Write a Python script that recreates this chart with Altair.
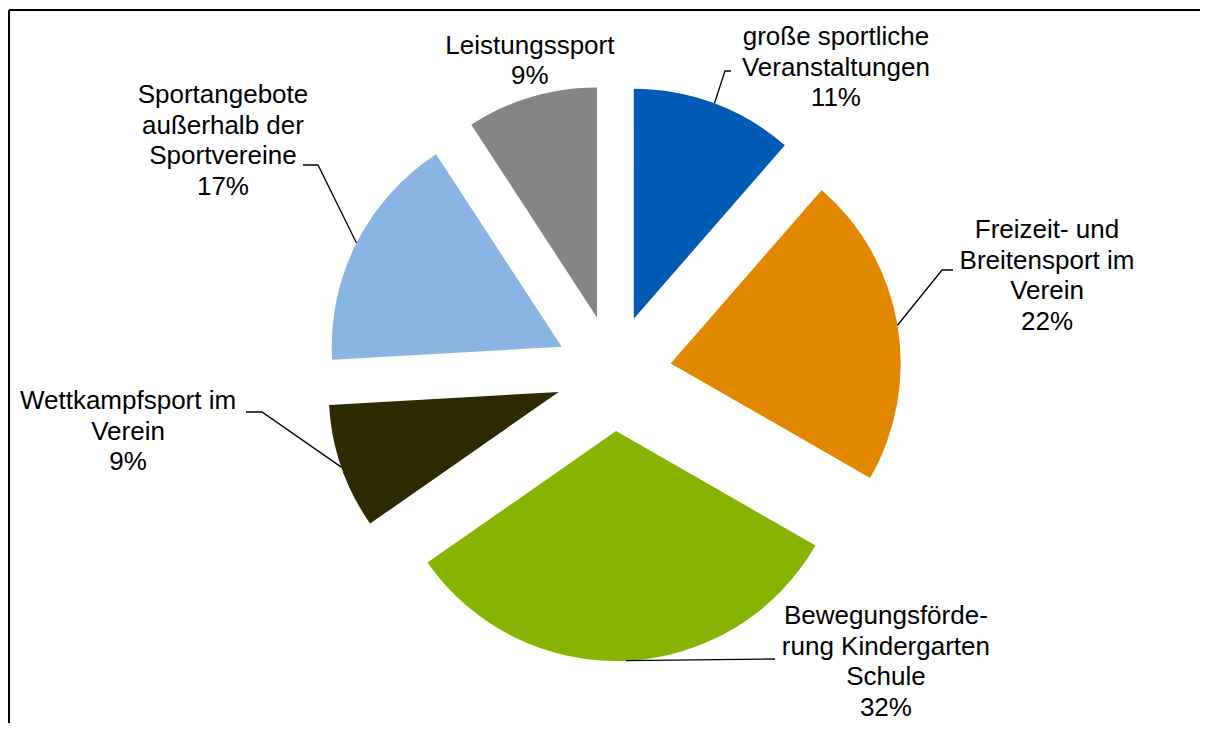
import math
import numpy as np
import pandas as pd
import altair as alt

# ---------------- data ----------------
categories = [
    "große sportliche\nVeranstaltungen",
    "Freizeit- und\nBreitensport im\nVerein",
    "Bewegungsförde-\nrung Kindergarten\nSchule",
    "Wettkampfsport im\nVerein",
    "Sportangebote\naußerhalb der\nSportvereine",
    "Leistungssport",
]
values = [11.4, 21.9, 32.0, 8.8, 16.7, 9.2]
colors = ["#005BB4", "#E28800", "#86B400", "#2D2A00", "#8AB4E2", "#858585"]

# ---------------- layout / style ----------------
W, H = 1191, 713
PAD_L, PAD_T = 1, 2
CX, CY = 604.5, 363.0      # pie centre (view px)
R = 230                    # pie radius
EXPLODE = 58               # explosion distance of every slice
FONT = "Liberation Sans, Arial, sans-serif"
FS = 26
LH = 30.5
# label block centre: (angle in degrees clockwise from 12 o'clock, distance from pie centre)
label_polar = [(36.1, 377.5), (77.4, 444.2), (136.7, 397.2), (263.1, 489.0), (300.7, 454.2), (345.0, 323.0)]
# leader line bends, relative to the pie centre (empty -> no leader)
leader_bends = [
    [(111.5, -302), (117.5, -302)],
    [(328.5, -103), (339.5, -103)],
    [(161.5, 286)],
    [(-351.5, 39), (-367.5, 39)],
    [(-295.5, -208), (-310.5, -208)],
    [],
]

# ---------------- derived geometry ----------------
vals = np.array(values, dtype=float)
frac = vals / vals.sum()
t1 = np.cumsum(frac)
t0 = t1 - frac
mid = (t0 + t1) / 2 * 2 * math.pi
cx = CX + EXPLODE * np.sin(mid)
cy = CY - EXPLODE * np.cos(mid)

slices = pd.DataFrame({"cat": categories, "t0": t0, "t1": t1, "cx": cx, "cy": cy})

lab_text = [f"{c}\n{v:.0f}%" for c, v in zip(categories, values)]
n_lines = [t.count("\n") + 1 for t in lab_text]
lx = [CX + d * math.sin(math.radians(a)) for a, d in label_polar]
# Vega anchors the first line; shift so the whole block is centred
ly = [CY - d * math.cos(math.radians(a)) - (n - 1) * LH / 2 for (a, d), n in zip(label_polar, n_lines)]
labels = pd.DataFrame({"text": lab_text, "lx": lx, "ly": ly})

rows = []
for i, bends in enumerate(leader_bends):
    if not bends:
        continue
    sx = cx[i] + R * math.sin(mid[i])
    sy = cy[i] - R * math.cos(mid[i])
    rows.append({"cat": categories[i], "seq": 0, "x": sx, "y": sy})
    for k, (bx, by) in enumerate(bends):
        rows.append({"cat": categories[i], "seq": k + 1, "x": CX + bx, "y": CY + by})
leaders = pd.DataFrame(rows)

# ---------------- chart ----------------
arcs = alt.Chart(slices).mark_arc(radius=R).encode(
    x=alt.X("cx:Q", scale=None, axis=None),
    y=alt.Y("cy:Q", scale=None, axis=None),
    theta=alt.Theta("t0:Q", scale=alt.Scale(domain=[0, 1], range=[0, 2 * math.pi])),
    theta2="t1:Q",
    color=alt.Color("cat:N", scale=alt.Scale(domain=categories, range=colors), legend=None),
)

lead = alt.Chart(leaders).mark_line(color="black", strokeWidth=1.3).encode(
    x=alt.X("x:Q", scale=None, axis=None),
    y=alt.Y("y:Q", scale=None, axis=None),
    detail="cat:N",
    order="seq:Q",
)

text = alt.Chart(labels).mark_text(
    font=FONT, fontSize=FS, lineHeight=LH, lineBreak="\n",
    align="center", baseline="middle", color="black",
).encode(
    x=alt.X("lx:Q", scale=None, axis=None),
    y=alt.Y("ly:Q", scale=None, axis=None),
    text="text:N",
)

one = pd.DataFrame({"a": [0]})
top_rule = alt.Chart(one).mark_rule(color="black", strokeWidth=2).encode(
    x=alt.value(0), x2=alt.value(W), y=alt.value(0)
)
left_rule = alt.Chart(one).mark_rule(color="black", strokeWidth=2).encode(
    x=alt.value(0), y=alt.value(0), y2=alt.value(H)
)

chart = alt.layer(arcs, lead, text, top_rule, left_rule).properties(
    width=W, height=H,
    padding={"left": PAD_L, "top": PAD_T, "right": 0, "bottom": 0},
    autosize=alt.AutoSizeParams(type="none"),
    background="white",
).configure_view(stroke=None)

chart.save("out.html", embed_options={"renderer": "svg", "actions": False})
